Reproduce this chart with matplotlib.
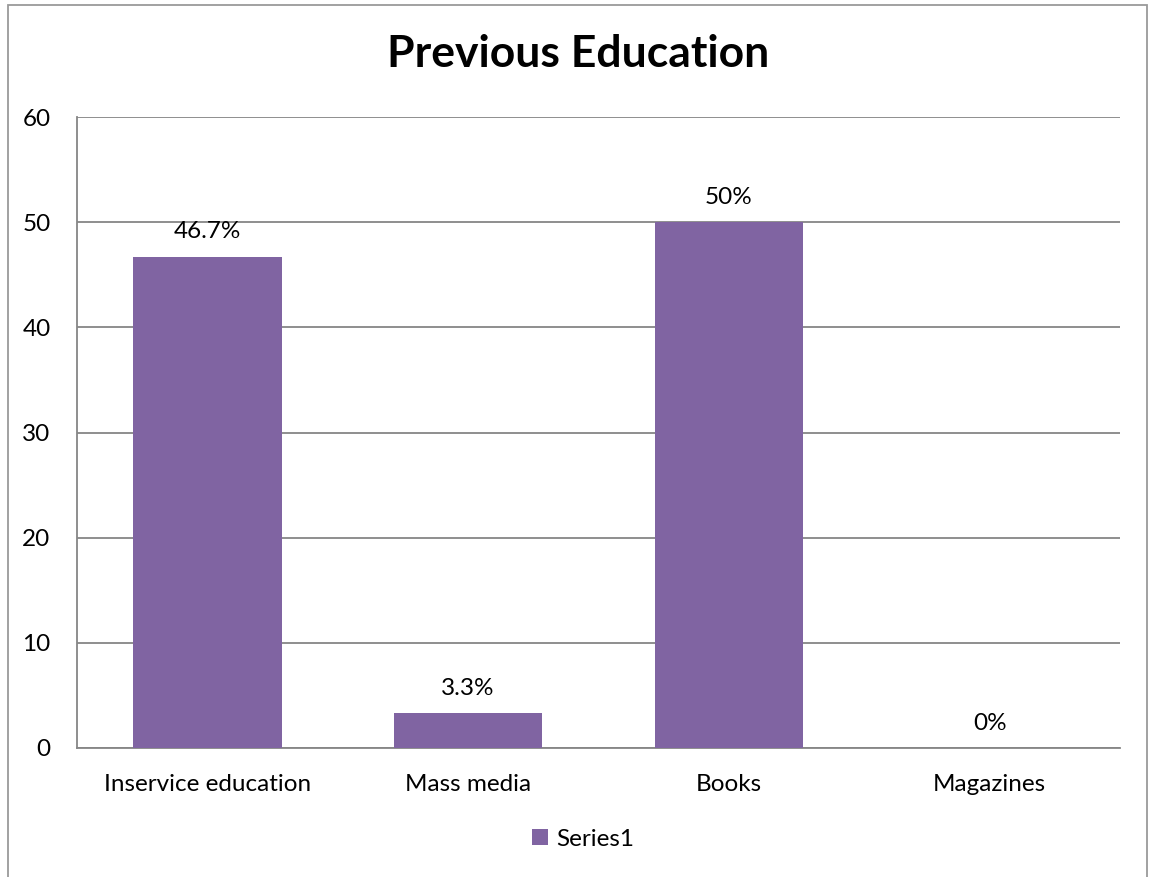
import matplotlib
matplotlib.use("Agg")
import matplotlib.pyplot as plt
from matplotlib.patches import Rectangle

categories = ["Inservice education", "Mass media", "Books", "Magazines"]
values = [46.7, 3.3, 50, 0]
labels = ["46.7%", "3.3%", "50%", "0%"]
yticks = [0, 10, 20, 30, 40, 50, 60]
series_name = "Series1"
title = "Previous Education"

plt.rcParams['font.family'] = ['Lato', 'DejaVu Sans']
W, H = 1149, 877
fig = plt.figure(figsize=(W/100, H/100), dpi=100)
ax = fig.add_axes([77/W, 1-748/H, (1120-77)/W, (748-117)/H])

color = "#8064A2"
grid_c = "#868686"
fs = 17.5
x = list(range(len(categories)))
bars = ax.bar(x, values, width=0.57, color=color, label=series_name, zorder=3)
ax.set_xlim(-0.5, len(categories)-0.5)
ax.set_ylim(0, 60)
ax.set_yticks(yticks)
ax.set_xticks(x)
ax.set_xticklabels(categories)
ax.tick_params(axis='both', length=0, labelsize=fs, colors='black')
ax.tick_params(axis='x', pad=19)
ax.tick_params(axis='y', pad=19)
ax.yaxis.grid(True, color=grid_c, linewidth=1.3, zorder=0)
for s in ['top', 'right']:
    ax.spines[s].set_visible(False)
for s in ['left', 'bottom']:
    ax.spines[s].set_color(grid_c)
    ax.spines[s].set_linewidth(1.3)

for xi, v, lab in zip(x, values, labels):
    ax.annotate(lab, (xi, v), xytext=(0, 25), textcoords='offset pixels',
                ha='center', va='center', fontsize=fs, color='black')

fig.text(578/W, 1-54/H, title, ha='center', va='center', fontsize=32, fontweight='bold')

leg = fig.legend(handles=[bars], labels=[series_name], loc='center', bbox_to_anchor=(583/W, 1-839/H),
                 frameon=False, fontsize=fs, handlelength=0.65, handleheight=0.65, handletextpad=0.35)

fig.patches.append(Rectangle((8/W, -0.05), (1147-8)/W, 1.05-5/H, transform=fig.transFigure,
                             fill=False, edgecolor='#9a9a9a', linewidth=1.3))

fig.savefig("out.png", dpi=100)
